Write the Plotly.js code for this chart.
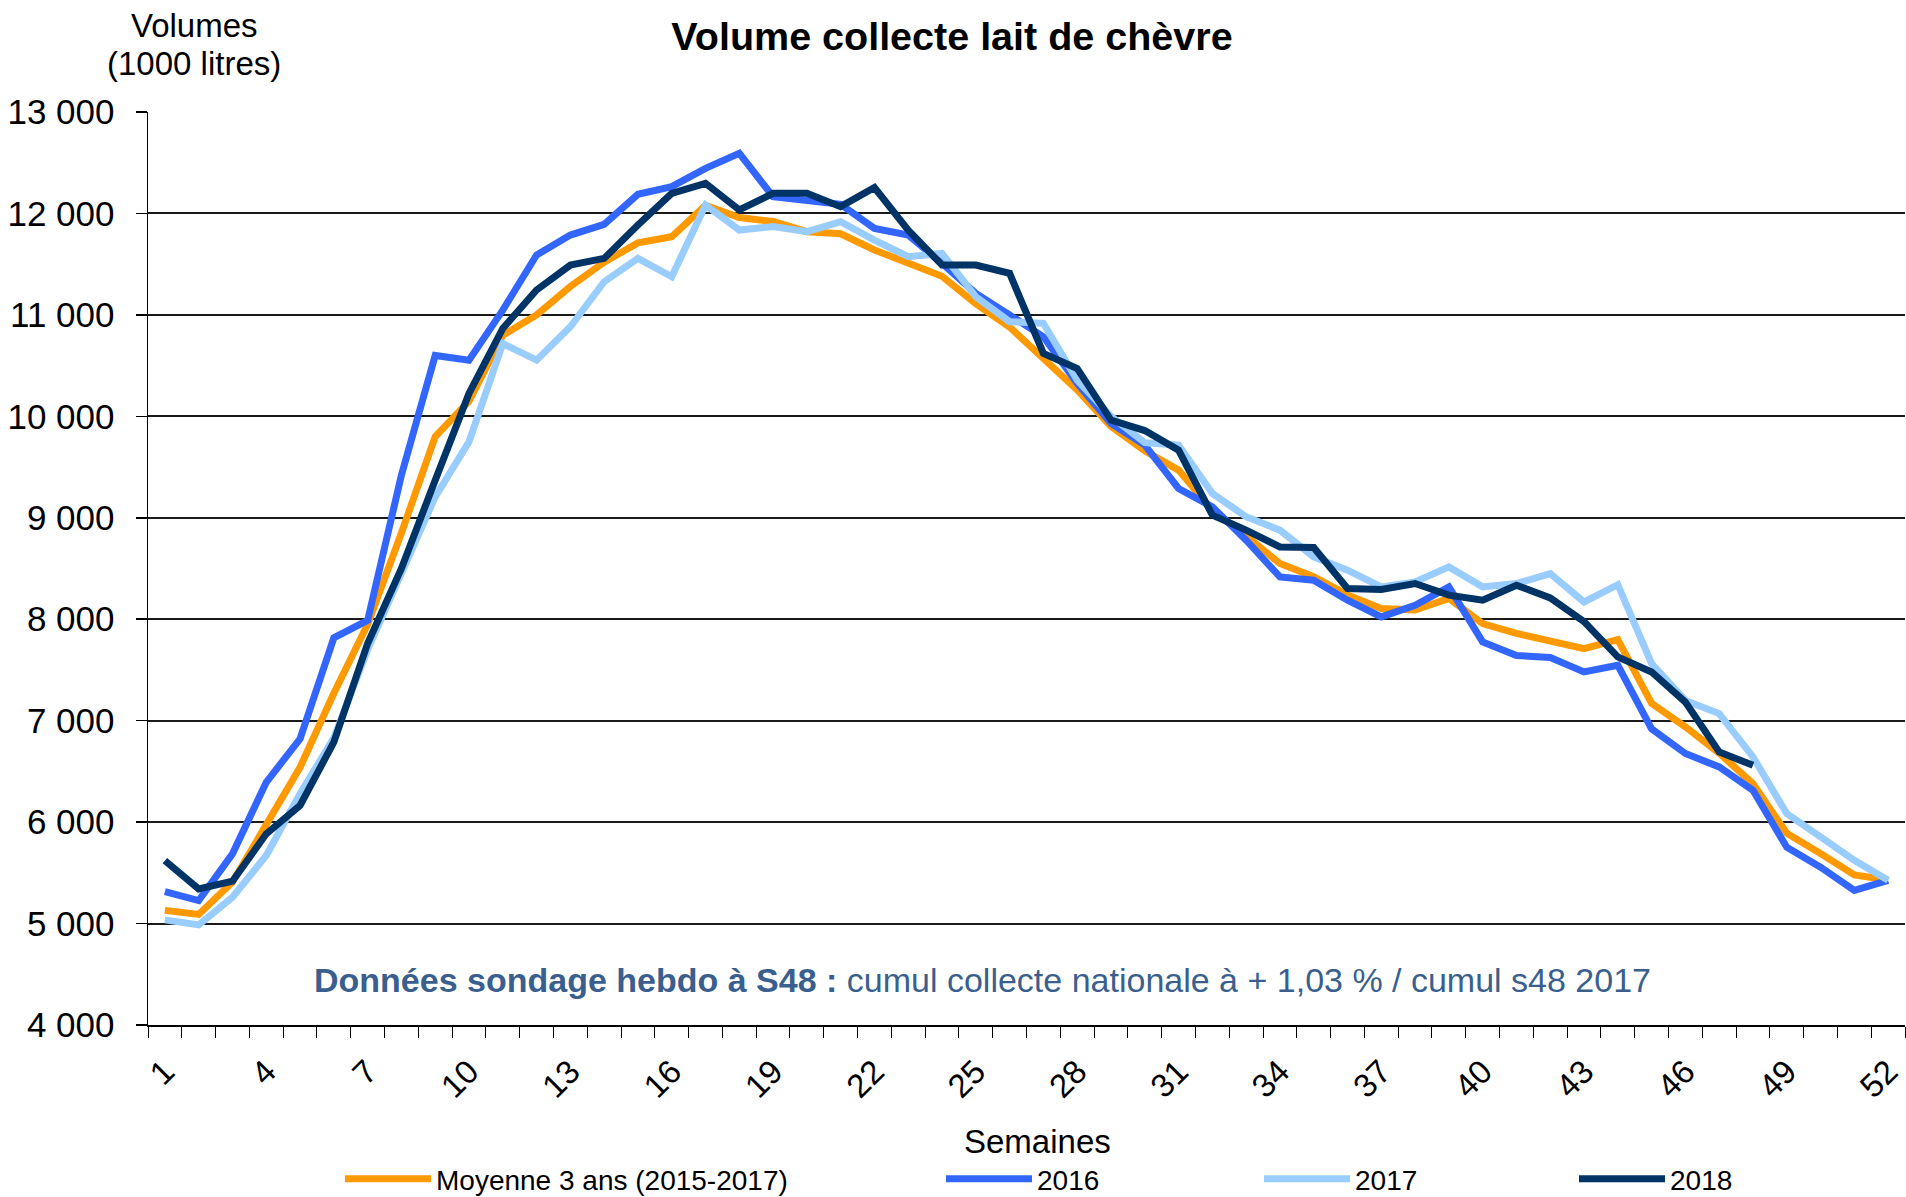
<!DOCTYPE html>
<html>
<head>
<meta charset="utf-8">
<script src="https://cdn.plot.ly/plotly-3.0.1.min.js"></script>
<style>
html,body{margin:0;padding:0;background:#fff;}
#chart{width:1906px;height:1197px;}
</style>
</head>
<body>
<div id="chart"></div>
<script>
// ---- Data ----
const weeks = [1,2,3,4,5,6,7,8,9,10,11,12,13,14,15,16,17,18,19,20,21,22,23,24,25,26,
               27,28,29,30,31,32,33,34,35,36,37,38,39,40,41,42,43,44,45,46,47,48,49,50,51,52];
const tickWeeks = [1,4,7,10,13,16,19,22,25,28,31,34,37,40,43,46,49,52];
const tickLabels = ["1","4","7","10","13","16","19","22","25","28","31","34","37","40","43","46","49","52"];

const seriesNames = ["Moyenne 3 ans (2015-2017)", "2016", "2017", "2018"];

const moyenne = [5130,5090,5410,5980,6540,7270,7950,8850,9800,10150,10800,11000,11280,11520,11710,11770,
  12080,11960,11920,11820,11800,11640,11510,11380,11110,10880,10570,10260,9900,9660,9470,9075,8820,8550,
  8420,8240,8105,8090,8205,7957,7860,7790,7710,7800,7170,6940,6680,6380,5890,5690,5480,5430];

const y2016 = [5315,5227,5687,6393,6821,7817,7988,9420,10600,10554,11047,11590,11787,11892,12189,12264,
  12445,12593,12165,12132,12090,11853,11787,11508,11212,11000,10784,10325,9930,9716,9289,9108,8779,8417,
  8385,8187,8023,8138,8319,7776,7643,7622,7480,7546,6920,6676,6544,6314,5753,5556,5327,5426];

const y2017 = [5036,4987,5259,5671,6279,6830,7700,8450,9206,9749,10718,10554,10883,11327,11557,11376,
  12083,11836,11870,11820,11918,11738,11573,11606,11179,10933,10917,10357,10000,9740,9716,9240,9010,8878,
  8615,8483,8319,8368,8516,8319,8352,8450,8170,8340,7563,7199,7070,6643,6084,5854,5623,5426];

const y2018 = [5621,5342,5417,5885,6164,6788,7761,8500,9371,10226,10867,11245,11491,11557,11886,12198,
  12297,12034,12198,12198,12067,12256,11836,11491,11491,11410,10620,10472,9963,9860,9667,9026,8878,8713,
  8707,8303,8293,8352,8237,8187,8335,8210,7976,7629,7480,7183,6692,6560];

const colors = ["#FF9900", "#3366FF", "#99CCFF", "#003366"];
const allSeries = [moyenne, y2016, y2017, y2018];
const legendIds = ["legend", "legend2", "legend3", "legend4"];

const FONT = "Liberation Sans, Arial, sans-serif";

const traces = allSeries.map((ys, i) => ({
  type: "scatter",
  mode: "lines",
  name: seriesNames[i],
  x: weeks.slice(0, ys.length),
  y: ys,
  line: {color: colors[i], width: 7},
  legend: legendIds[i],
  showlegend: true,
  hoverinfo: "x+y+name"
}));

// plot area in pixels
const L = 148, R = 1, T = 112, B = 172, W = 1906 - L - R, H = 1197 - T - B;
const px = x => (x - L) / W;
const py = y => (T + H - y) / H;

function mkLegend(xPix) {
  return {
    orientation: "h", x: px(xPix), xanchor: "left", y: py(1179), yanchor: "middle",
    font: {family: FONT, size: 28, color: "#000"},
    itemwidth: 86, bgcolor: "rgba(0,0,0,0)", borderwidth: 0
  };
}

const layout = {
  width: 1906, height: 1197,
  margin: {l: L, r: R, t: T, b: B, pad: 0, autoexpand: false},
  showlegend: true,
  paper_bgcolor: "#fff", plot_bgcolor: "#fff",
  separators: ", ",
  font: {family: FONT, color: "#000"},
  title: {
    text: "<b>Volume collecte lait de chèvre</b>",
    font: {family: FONT, size: 39.5, color: "#000"},
    xref: "container", x: 952 / 1906, xanchor: "center",
    yref: "container", y: 1 - 36 / 1197, yanchor: "middle"
  },
  xaxis: {
    type: "linear", range: [0.5, 52.5], fixedrange: true,
    tickvals: tickWeeks, ticktext: tickLabels, ticks: "",
    tickangle: -45, tickfont: {family: FONT, size: 33, color: "#000"},
    ticklabelstandoff: 12,
    showgrid: false, zeroline: false,
    showline: true, linecolor: "#000", linewidth: 2,
    minor: {tick0: 0.5, dtick: 1, ticks: "outside", ticklen: 11, tickcolor: "#000", tickwidth: 1, showgrid: false}
  },
  yaxis: {
    range: [4000, 13000], dtick: 1000, tick0: 4000, fixedrange: true,
    tickformat: ",d",
    tickfont: {family: FONT, size: 35, color: "#000"},
    ticks: "outside", ticklen: 11, tickcolor: "#000", tickwidth: 1.5,
    ticklabelstandoff: 14,
    showgrid: true, gridcolor: "#1a1a1a", gridwidth: 2,
    zeroline: false, showline: true, linecolor: "#000", linewidth: 1.5
  },
  legend: mkLegend(340),
  legend2: mkLegend(941),
  legend3: mkLegend(1259),
  legend4: mkLegend(1574),
  annotations: [
    {
      text: "Volumes", xref: "paper", yref: "paper",
      x: px(194), y: py(26), xanchor: "center", yanchor: "middle", showarrow: false,
      font: {family: FONT, size: 33, color: "#000"}
    },
    {
      text: "(1000 litres)", xref: "paper", yref: "paper",
      x: px(194), y: py(64), xanchor: "center", yanchor: "middle", showarrow: false,
      font: {family: FONT, size: 33, color: "#000"}
    },
    {
      text: "<b>Données sondage hebdo à S48 :</b> cumul collecte nationale à + 1,03 % / cumul s48 2017",
      xref: "paper", yref: "paper", x: px(982), y: py(980),
      xanchor: "center", yanchor: "middle", showarrow: false,
      font: {family: FONT, size: 34, color: "#3A5F8F"}
    },
    {
      text: "Semaines", xref: "paper", yref: "paper", x: px(1037), y: py(1141),
      xanchor: "center", yanchor: "middle", showarrow: false,
      font: {family: FONT, size: 33, color: "#000"}
    }
  ]
};

Plotly.newPlot("chart", traces, layout, {displayModeBar: false, staticPlot: true});
</script>
</body>
</html>
